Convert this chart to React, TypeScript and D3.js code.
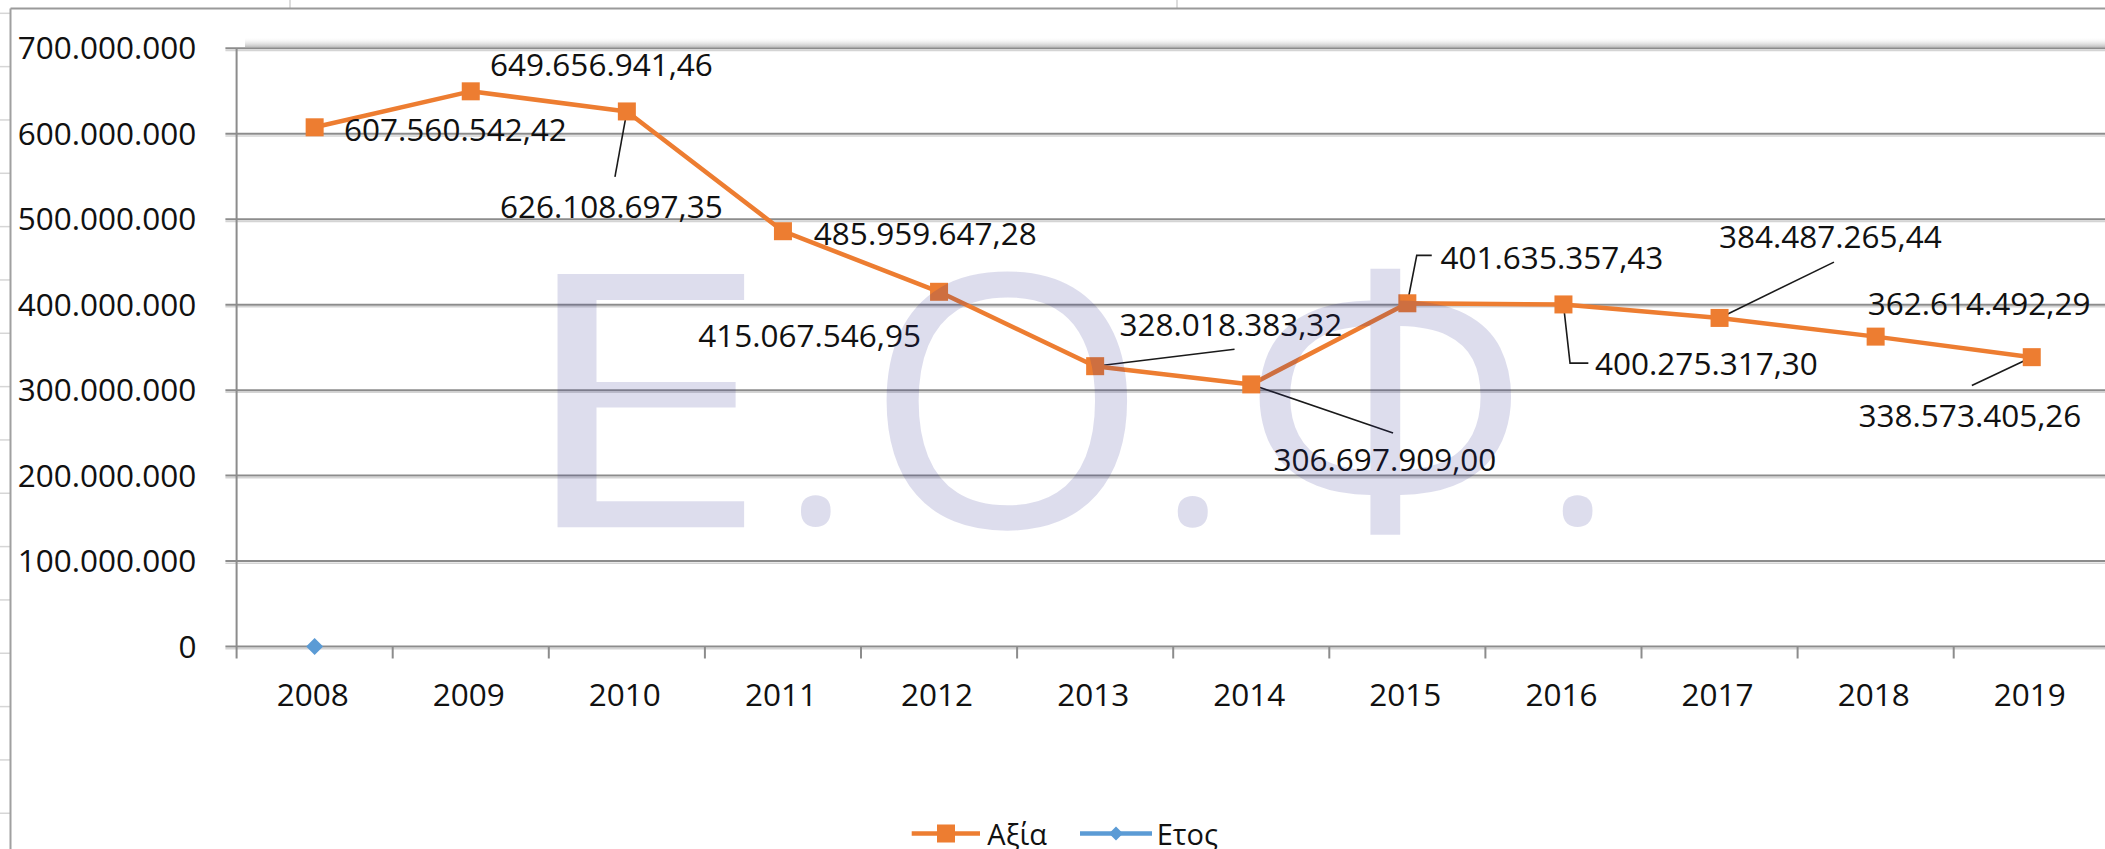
import React, { useMemo } from 'react';
import * as d3 from 'd3';

// ---------- data ----------
const years = ['2008', '2009', '2010', '2011', '2012', '2013', '2014', '2015', '2016', '2017', '2018', '2019'];
const axiaValues = [
  607560542.42, 649656941.46, 626108697.35, 485959647.28, 415067546.95, 328018383.32,
  306697909.0, 401635357.43, 400275317.3, 384487265.44, 362614492.29, 338573405.26,
];
const etosValues = [0]; // only the first category shows a point (at 0)
const yTicks = [0, 100000000, 200000000, 300000000, 400000000, 500000000, 600000000, 700000000];
const seriesNames = ['Αξία', 'Ετος'];
const watermarkGlyphs = ['Ε', '.', 'Ο', '.', 'Φ', '.'];

// ---------- layout (positions only) ----------
const W = 2105;
const H = 849;
const PLOT_LEFT = 236.6;
const BAND = 156.1;
const Y_ZERO = 646.5;
const Y_TOP = 48.3;
const FONT = "'Open Sans', 'Noto Sans', sans-serif";
const LABEL_SIZE = 31.5;

// data label offsets from the point: [dx to label left, dy to label centre], leader points
const labelLayout: { dx: number; dy: number; leader?: [number, number][] }[] = [
  { dx: 29.4, dy: 2.8 },
  { dx: 19.3, dy: -26.8 },
  { dx: -126.9, dy: 95.4, leader: [[-11.9, 65.4]] },
  { dx: 30.9, dy: 3.1 },
  { dx: -240.9, dy: 44.4 },
  { dx: 24.4, dy: -41.2, leader: [[139.4, -16.9]] },
  { dx: 22.3, dy: 75.7, leader: [[141.8, 48.7]] },
  { dx: 33.2, dy: -45.4, leader: [[9.4, -47.9], [24.4, -47.9]] },
  { dx: 31.6, dy: 59.7, leader: [[6.6, 58.7], [24.9, 58.7]] },
  { dx: -0.6, dy: -80.8, leader: [[114.4, -55.8]] },
  { dx: -8, dy: -33.1 },
  { dx: -173.2, dy: 58.9, leader: [[-59.9, 28.4]] },
];

// watermark glyph ink boxes [x0, y0, x1, y1]
const watermarkBoxes: [number, number, number, number][] = [
  [555.7, 272.3, 746.4, 527.3],
  [798.3, 493.3, 834.2, 528.3],
  [881.4, 268.3, 1127.8, 532.7],
  [1175, 493.3, 1211.3, 528.3],
  [1258, 265, 1513, 537],
  [1560, 493.3, 1596, 528.3],
];

const locale = d3.formatLocale({ decimal: ',', thousands: '.', grouping: [3], currency: ['', ''] });
const fmtLabel = locale.format(',.2f');
const fmtAxis = locale.format(',.0f');

const ORANGE = '#ED7D31';
const BLUE = '#5B9BD5';
const GRID = '#8c8c8c';

function useWatermarkTransforms() {
  return useMemo(() => {
    const base = 360;
    let ctx: CanvasRenderingContext2D | null = null;
    try {
      ctx = document.createElement('canvas').getContext('2d');
    } catch (e) {
      ctx = null;
    }
    return watermarkGlyphs.map((g, i) => {
      const [x0, y0, x1, y1] = watermarkBoxes[i];
      let left = 0, right = base * 0.5, top = -base * 0.714, bottom = 0;
      if (ctx) {
        ctx.font = `${base}px ${FONT}`;
        const m = ctx.measureText(g);
        left = -m.actualBoundingBoxLeft;
        right = m.actualBoundingBoxRight;
        top = -m.actualBoundingBoxAscent;
        bottom = m.actualBoundingBoxDescent;
      }
      const sx = (x1 - x0) / (right - left);
      const sy = (y1 - y0) / (bottom - top);
      const tx = x0 - left * sx;
      const ty = y0 - top * sy;
      return { g, base, transform: `translate(${tx},${ty}) scale(${sx},${sy})` };
    });
  }, []);
}

export default function App() {
  const x = d3.scaleBand<string>().domain(years).range([PLOT_LEFT, PLOT_LEFT + BAND * years.length]).paddingInner(0).paddingOuter(0);
  const y = d3.scaleLinear().domain([0, 700000000]).range([Y_ZERO, Y_TOP]);
  const cx = (i: number) => (x(years[i]) as number) + x.bandwidth() / 2;

  const points = axiaValues.map((v, i) => [cx(i), y(v)] as [number, number]);
  const linePath = d3.line()(points) || '';
  const wm = useWatermarkTransforms();

  const rowLines: number[] = [];
  for (let k = 0; k < 16; k++) rowLines.push(13.3 + 53.33 * k);

  const tickXs = years.map((yr) => x(yr) as number);

  const diamond = (px: number, py: number, r: number) => `M${px},${py - r}L${px + r},${py}L${px},${py + r}L${px - r},${py}Z`;

  return (
    <svg width={W} height={H} style={{ position: 'absolute', left: 0, top: 0, background: '#fff' }} fontFamily={FONT}>
      <defs>
        <linearGradient id="topShadow" x1="0" y1="0" x2="0" y2="1">
          <stop offset="0" stopColor="#ffffff" stopOpacity={0} />
          <stop offset="1" stopColor="#b8b8b8" stopOpacity={0.9} />
        </linearGradient>
      </defs>
      <rect x={0} y={0} width={W} height={H} fill="#fff" />

      {/* spreadsheet remnants */}
      {rowLines.map((ry, k) => (
        <line key={'r' + k} x1={0} x2={10} y1={ry} y2={ry} stroke="#d6d6d6" strokeWidth={1.5} />
      ))}
      <line x1={290} x2={290} y1={0} y2={8} stroke="#d0d0d0" strokeWidth={1.5} />
      <line x1={1177} x2={1177} y1={0} y2={8} stroke="#d0d0d0" strokeWidth={1.5} />
      {/* chart border */}
      <line x1={10.5} x2={W} y1={8.5} y2={8.5} stroke="#9a9a9a" strokeWidth={2} />
      <line x1={10.5} x2={10.5} y1={8.5} y2={H} stroke="#a0a0a0" strokeWidth={2} />

      {/* shadow above plot area */}
      <rect x={245} y={37} width={W - 245} height={10} fill="url(#topShadow)" />

      {/* gridlines */}
      {yTicks.map((t) => (
        <g key={'g' + t}>
          <line x1={225.4} x2={W} y1={y(t) + 2.2} y2={y(t) + 2.2} stroke="#d4d4d4" strokeWidth={1.5} />
          <line x1={225.4} x2={W} y1={y(t)} y2={y(t)} stroke={GRID} strokeWidth={2} />
        </g>
      ))}
      {/* y axis */}
      <line x1={PLOT_LEFT} x2={PLOT_LEFT} y1={Y_TOP} y2={Y_ZERO + 12} stroke={GRID} strokeWidth={2} />
      {/* x ticks */}
      {tickXs.slice(1).map((tx, i) => (
        <line key={'xt' + i} x1={tx} x2={tx} y1={Y_ZERO} y2={Y_ZERO + 12} stroke={GRID} strokeWidth={2} />
      ))}

      {/* y labels */}
      {yTicks.map((t) => (
        <text key={'yl' + t} x={196.4} y={y(t) + 11} textAnchor="end" fontSize={LABEL_SIZE} fill="#111">
          {fmtAxis(t)}
        </text>
      ))}
      {/* x labels */}
      {years.map((yr, i) => (
        <text key={'xl' + yr} x={cx(i) - 2} y={706} textAnchor="middle" fontSize={LABEL_SIZE} fill="#111">
          {yr}
        </text>
      ))}

      {/* leader lines */}
      {labelLayout.map((l, i) =>
        l.leader ? (
          <polyline
            key={'ld' + i}
            points={[[0, 0], ...l.leader].map(([dx, dy]) => `${points[i][0] + dx},${points[i][1] + dy}`).join(' ')}
            fill="none"
            stroke="#1a1a1a"
            strokeWidth={1.6}
          />
        ) : null
      )}

      {/* series Αξία */}
      <path d={linePath} fill="none" stroke={ORANGE} strokeWidth={4.5} strokeLinejoin="round" />
      {points.map(([px, py], i) => (
        <rect key={'m' + i} x={px - 9} y={py - 9} width={18} height={18} fill={ORANGE} />
      ))}

      {/* series Ετος */}
      {etosValues.map((v, i) => (
        <path key={'e' + i} d={diamond(cx(i), y(v), 8.5)} fill={BLUE} />
      ))}

      {/* data labels */}
      {axiaValues.map((v, i) => (
        <text
          key={'dl' + i}
          x={points[i][0] + labelLayout[i].dx}
          y={points[i][1] + labelLayout[i].dy + 11}
          fontSize={LABEL_SIZE}
          fill="#111"
        >
          {fmtLabel(v)}
        </text>
      ))}

      {/* legend */}
      <g>
        <line x1={911.7} x2={980} y1={833.5} y2={833.5} stroke={ORANGE} strokeWidth={4.5} />
        <rect x={937} y={824.5} width={18} height={18} fill={ORANGE} />
        <text x={987.3} y={845} fontSize={29} fill="#111">
          {seriesNames[0]}
        </text>
        <line x1={1080} x2={1152} y1={833.5} y2={833.5} stroke={BLUE} strokeWidth={4.5} />
        <path d={diamond(1116, 833.5, 7)} fill={BLUE} />
        <text x={1156.7} y={845} fontSize={29} fill="#111">
          {seriesNames[1]}
        </text>
      </g>

      {/* watermark */}
      <g fill="rgb(42,42,142)" fillOpacity={0.16}>
        {wm.map((w, i) => (
          <text key={'wm' + i} x={0} y={0} fontSize={w.base} transform={w.transform}>
            {w.g}
          </text>
        ))}
      </g>
    </svg>
  );
}
